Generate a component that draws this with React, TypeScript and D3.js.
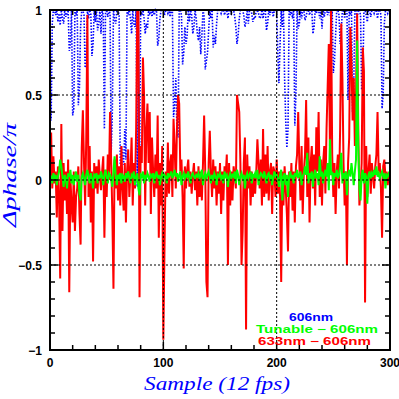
import React, { useRef, useEffect } from "react";
import * as d3 from "d3";

// phase differences / pi, one value per sample (12 fps)
const blue606 = [
  0.90, 0.35, 0.92, 1.00, 1.00, 0.97, 1.00, 0.93, 0.98, 0.91,
  1.00, 0.95, 0.92, 1.00, 0.96, 0.98, 1.00, 0.76, 0.80, 1.00,
  0.38, 0.42, 1.00, 0.98, 1.00, 0.44, 0.55, 0.90, 1.00, 1.00,
  0.97, 0.66, 0.70, 1.00, 0.95, 1.00, 0.98, 0.73, 0.80, 1.00,
  0.93, 1.00, 0.88, 0.92, 1.00, 0.86, 1.00, 0.97, 0.30, 1.00,
  1.00, 0.96, 1.00, 0.98, 0.16, 0.40, 1.00, 0.94, 0.92, 1.00,
  1.00, 0.97, 0.09, 0.20, 0.15, 0.09, 0.30, 0.12, 1.00, 0.98,
  1.00, 0.95, 0.86, 1.00, 0.92, 0.90, 1.00, -0.04, 1.00, 0.08,
  1.00, 0.97, 1.00, 0.95, 0.86, 0.92, 0.89, 1.00, 0.98, 1.00,
  0.96, 1.00, 0.97, 1.00, 0.99, 0.79, 0.83, 0.95, 1.00, 1.00,
  1.00, 0.97, 1.00, 1.00, 0.98, 1.00, 0.96, 1.00, 1.00, 0.37,
  0.45, 0.60, 0.30, 0.25, 1.00, 1.00, 0.97, 0.68, 0.75, 0.90,
  0.80, 0.85, 1.00, 0.93, 1.00, 0.97, 0.86, 0.90, 1.00, 0.95,
  0.86, 0.82, 0.90, 0.74, 0.85, 1.00, 0.96, 0.65, 0.70, 0.75,
  0.88, 1.00, 0.95, 1.00, 0.78, 0.85, 0.80, 0.92, 1.00, 1.00,
  1.00, 0.98, 1.00, 1.00, 0.97, 1.00, 1.00, 0.95, 1.00, 1.00,
  0.98, 1.00, 1.00, 0.96, 0.90, 0.80, 0.85, 0.95, 1.00, 1.00,
  1.00, 0.97, 0.90, 0.93, 1.00, 0.92, 1.00, 1.00, 0.98, 0.93,
  0.96, 0.95, 1.00, 1.00, 0.98, 0.95, 0.96, 1.00, 0.95, 1.00,
  1.00, 0.88, 0.92, 1.00, 0.97, 1.00, 1.00, 0.96, 1.00, 1.00,
  1.00, 0.75, 0.57, 0.80, 1.00, 0.90, 1.00, 0.60, 0.35, 0.19,
  0.30, 1.00, 0.97, 1.00, 0.95, 1.00, 0.32, 0.50, 1.00, 0.89,
  0.92, 1.00, 0.95, 1.00, 1.00, 0.94, 0.96, 1.00, 1.00, 0.97,
  1.00, 1.00, 0.86, 0.90, 1.00, 0.98, 1.00, 1.00, 0.95, 1.00,
  0.89, 1.00, 0.96, 1.00, 1.00, 0.97, 1.00, 1.00, 0.93, 1.00,
  0.63, 0.70, 0.85, 1.00, 1.00, 0.97, 0.80, 0.88, 1.00, 1.00,
  0.95, 1.00, 1.00, 0.47, 1.00, 0.97, 1.00, 0.40, 0.55, 1.00,
  1.00, 0.95, 1.00, 1.00, 0.97, 0.53, 0.60, 1.00, 1.00, 0.97,
  0.93, 1.00, 1.00, 0.96, 1.00, 1.00, 0.98, 1.00, 1.00, 0.95,
  1.00, 1.00, 0.97, 0.42, 0.50, 0.92, 1.00, 1.00, 0.98, 1.00, 1.00,
];

const red633 = [
  0.00, 0.28, -0.05, 0.14, -0.02, 0.05, -0.22, 0.08, -0.10, -0.58,
  0.33, -0.30, 0.10, -0.12, 0.05, -0.20, 0.12, -0.66, 0.02, -0.15,
  -0.25, 0.05, -0.30, -0.10, -0.05, 0.08, -0.20, -0.38, 0.19, 0.41,
  0.10, -0.15, 0.25, 0.97, -0.10, 0.20, -0.25, 0.05, -0.48, 0.10,
  -0.05, 0.08, -0.08, 0.12, 0.02, -0.06, 0.05, 0.14, -0.34, 0.06,
  -0.10, 0.15, 0.00, 0.40, 0.10, -0.20, -0.64, 0.12, -0.05, 0.15,
  -0.12, 0.08, -0.15, 0.20, -0.05, -0.18, 0.10, -0.25, 0.05, 0.18,
  -0.10, 0.05, 0.25, -0.15, 0.10, -0.05, 0.30, 1.00, 1.00, -0.69,
  0.20, 0.10, 0.72, 0.50, -0.15, 0.30, 0.45, 0.10, 0.40, -0.20,
  0.25, 0.05, -0.10, 0.15, -0.05, 0.38, -0.34, 0.10, -0.15, 0.20,
  -0.94, -0.41, 0.05, -0.10, 0.22, -0.08, 0.10, 0.15, -0.10, 0.36,
  0.20, -0.05, 0.30, 0.50, 0.45, 0.05, 0.12, -0.10, -0.52, 0.08,
  -0.05, 0.06, 0.12, -0.04, 0.05, -0.08, 0.03, 0.10, -0.06, 0.05,
  -0.15, 0.08, -0.10, 0.05, -0.12, 0.10, 0.38, 0.05, -0.60, -0.69,
  0.10, 0.29, 0.05, -0.10, 0.12, -0.05, 0.08, -0.15, 0.05, -0.08,
  0.10, -0.20, 0.05, -0.12, 0.08, 0.02, 0.15, -0.50, 0.10, -0.15,
  0.05, -0.12, 0.08, 0.02, -0.05, 0.50, 0.45, 0.40, 0.10, -0.50,
  -0.30, 0.10, 0.25, -0.88, 0.15, -0.05, 0.08, -0.15, 0.05, -0.10,
  0.02, -0.08, 0.05, 0.24, 0.10, -0.05, 0.12, -0.15, 0.30, -0.10,
  0.15, -0.08, 0.20, -0.12, 0.05, 0.10, -0.20, 0.08, 0.05, -0.10,
  0.12, -0.08, 0.05, -0.10, -0.60, 0.05, -0.15, 0.08, -0.05, -0.20,
  -0.42, 0.05, -0.10, 0.10, -0.18, 0.05, -0.25, 0.08, 0.15, 0.40,
  0.10, -0.12, 0.20, -0.20, 0.05, 0.15, 0.47, -0.10, 0.25, -0.25,
  0.10, 0.20, -0.05, 0.15, -0.15, 0.31, 0.05, 0.40, -0.10, 0.12,
  -0.15, 0.10, 0.20, -0.08, 0.30, 0.55, 0.80, 0.20, 1.00, 0.15,
  -0.10, 0.10, -0.20, 0.05, 0.15, -0.05, 0.30, 0.92, 0.60, 0.10,
  -0.15, 0.05, -0.50, 0.10, 0.25, 0.90, 0.70, 0.35, 0.60, 0.20,
  0.50, 0.98, 0.30, -0.15, -0.05, 0.10, 0.78, 0.64, -0.72, 0.20,
  -0.10, 0.05, 0.15, -0.08, 0.10, 0.02, -0.05, 0.08, 0.15, 0.40,
  0.05, 0.10, -0.05, -0.34, 0.08, 0.12, 0.02, 0.05, -0.03, 0.04, 0.02,
];

const greenTunable = [
  0.03, 0.02, -0.02, 0.04, 0.01, 0.03, -0.03, 0.02, 0.05, 0.12,
  0.08, 0.02, -0.04, 0.03, 0.01, -0.05, 0.04, 0.02, 0.06, -0.02,
  0.03, -0.03, 0.02, 0.05, -0.01, 0.03, -0.08, -0.12, 0.02, 0.04,
  0.01, -0.03, 0.03, 0.06, 0.02, -0.02, 0.04, 0.01, -0.05, 0.03,
  0.02, 0.04, -0.02, 0.03, 0.01, 0.05, 0.02, -0.03, 0.03, 0.06,
  0.02, -0.02, 0.04, 0.03, 0.01, -0.04, 0.05, 0.14, 0.02, -0.03,
  0.03, 0.01, 0.04, -0.02, 0.03, 0.02, -0.01, 0.04, 0.02, 0.05,
  0.01, -0.02, 0.03, 0.02, 0.05, -0.03, 0.02, 0.04, -0.05, -0.09,
  0.03, 0.02, 0.05, -0.02, 0.03, 0.01, 0.04, 0.02, -0.01, 0.03,
  0.02, 0.04, -0.02, 0.03, 0.05, 0.01, 0.03, -0.03, 0.02, 0.04,
  0.01, 0.03, 0.02, -0.02, 0.04, 0.02, 0.03, 0.05, 0.01, 0.03,
  0.06, 0.02, 0.04, -0.01, 0.03, 0.05, -0.03, 0.02, 0.04, 0.01,
  0.03, 0.02, 0.05, 0.01, -0.02, 0.03, 0.04, 0.02, 0.01, 0.03,
  0.02, 0.04, 0.01, 0.03, 0.06, -0.03, 0.02, 0.04, 0.01, 0.03,
  0.05, 0.02, -0.02, 0.03, 0.01, 0.04, 0.02, -0.03, 0.03, 0.02,
  0.04, 0.01, 0.03, -0.02, 0.05, 0.02, 0.03, -0.04, 0.02, 0.04,
  0.01, 0.03, 0.02, 0.05, -0.02, 0.06, 0.03, -0.03, 0.02, 0.04,
  0.01, 0.03, -0.05, 0.02, 0.04, 0.01, 0.03, 0.05, -0.02, 0.03,
  0.02, 0.04, 0.01, 0.06, -0.03, 0.02, 0.04, 0.03, 0.01, 0.05,
  0.02, -0.02, 0.03, 0.04, 0.01, 0.03, -0.03, 0.02, 0.05, 0.02,
  0.03, 0.01, -0.04, 0.03, 0.06, -0.12, 0.02, 0.04, -0.03, 0.03,
  -0.10, 0.02, 0.05, 0.01, 0.03, -0.02, 0.04, 0.02, 0.06, 0.01,
  0.03, 0.05, -0.03, 0.02, 0.04, 0.08, 0.03, 0.16, -0.02, 0.04,
  0.02, 0.05, -0.04, 0.03, 0.06, 0.01, 0.04, -0.03, 0.14, 0.02,
  0.05, -0.02, 0.03, 0.06, 0.02, 0.10, -0.06, 0.24, 0.03, 0.05,
  -0.03, 0.04, 0.02, 0.06, 0.01, 0.03, 0.08, 0.16, -0.02, 0.04,
  0.02, 0.05, -0.09, 0.03, 0.06, 0.02, 0.10, 0.04, -0.03, 0.05,
  0.12, 0.82, 0.20, -0.05, -0.12, 0.03, 0.06, -0.02, 0.04, 0.02,
  -0.14, 0.03, 0.05, 0.01, 0.04, 0.02, 0.06, 0.03, 0.08, 0.02,
  0.04, 0.01, 0.03, 0.05, 0.02, 0.04, -0.05, 0.03, 0.02, 0.04, 0.03,
];

const xTickLabels = [0, 100, 200, 300];
const yTickLabels = [-1, -0.5, 0, 0.5, 1];
const legendLabels = ["606nm", "Tunable \u2212 606nm", "633nm \u2212 606nm"];

const App = () => {
  const svgRef = useRef(null);
  const width = 399;
  const height = 399;
  const margin = { top: 10, right: 9, bottom: 49, left: 50 };

  useEffect(() => {
    const svg = d3.select(svgRef.current);
    svg.selectAll("*").remove();

    const x = d3
      .scaleLinear()
      .domain([0, 300])
      .range([margin.left, width - margin.right]);
    const y = d3
      .scaleLinear()
      .domain([-1, 1])
      .range([height - margin.bottom, margin.top]);

    const line = d3
      .line<number>()
      .x((d, i) => x(i))
      .y((d) => y(d));

    // series: blue (dotted) first, red, then green on top
    svg
      .append("path")
      .attr("d", line(blue606))
      .attr("fill", "none")
      .attr("stroke", "#0000ff")
      .attr("stroke-width", 1.6)
      .attr("stroke-dasharray", "1.5 1.5");

    svg
      .append("path")
      .attr("d", line(red633))
      .attr("fill", "none")
      .attr("stroke", "#ff0000")
      .attr("stroke-width", 2);

    svg
      .append("path")
      .attr("d", line(greenTunable))
      .attr("fill", "none")
      .attr("stroke", "#00ff00")
      .attr("stroke-width", 2);

    // dotted grid
    [100, 200].forEach((v) => {
      svg
        .append("line")
        .attr("x1", x(v))
        .attr("x2", x(v))
        .attr("y1", y(-1))
        .attr("y2", y(1))
        .attr("stroke", "black")
        .attr("stroke-dasharray", "2 2");
    });
    [-0.5, 0, 0.5].forEach((v) => {
      svg
        .append("line")
        .attr("x1", x(0))
        .attr("x2", x(300))
        .attr("y1", y(v))
        .attr("y2", y(v))
        .attr("stroke", "black")
        .attr("stroke-dasharray", "2 2");
    });

    // frame
    svg
      .append("rect")
      .attr("x", x(0))
      .attr("y", y(1))
      .attr("width", x(300) - x(0))
      .attr("height", y(-1) - y(1))
      .attr("fill", "none")
      .attr("stroke", "black")
      .attr("stroke-width", 2);

    // ticks pointing inward on all four sides
    const ticks = svg.append("g").attr("stroke", "black").attr("stroke-width", 1.5);
    d3.range(0, 301, 20).forEach((v) => {
      const len = v % 100 === 0 ? 8 : 5;
      ticks.append("line").attr("x1", x(v)).attr("x2", x(v)).attr("y1", y(-1)).attr("y2", y(-1) - len);
      ticks.append("line").attr("x1", x(v)).attr("x2", x(v)).attr("y1", y(1)).attr("y2", y(1) + len);
    });
    d3.range(-10, 11).forEach((k) => {
      const v = k / 10;
      const len = k % 5 === 0 ? 8 : 5;
      ticks.append("line").attr("x1", x(0)).attr("x2", x(0) + len).attr("y1", y(v)).attr("y2", y(v));
      ticks.append("line").attr("x1", x(300)).attr("x2", x(300) - len).attr("y1", y(v)).attr("y2", y(v));
    });

    // tick labels
    const fmt = (v) => (v < 0 ? "\u2212" + Math.abs(v) : String(v));
    svg
      .selectAll(".xl")
      .data(xTickLabels)
      .enter()
      .append("text")
      .attr("class", "xl")
      .attr("x", (d) => x(d))
      .attr("y", height - margin.bottom + 17)
      .attr("text-anchor", "middle")
      .style("font-family", "Liberation Sans, Arial, sans-serif")
      .style("font-weight", "bold")
      .style("font-size", "12px")
      .text((d) => fmt(d));

    svg
      .selectAll(".yl")
      .data(yTickLabels)
      .enter()
      .append("text")
      .attr("class", "yl")
      .attr("x", margin.left - 8)
      .attr("y", (d) => y(d) + 4.5)
      .attr("text-anchor", "end")
      .style("font-family", "Liberation Sans, Arial, sans-serif")
      .style("font-weight", "bold")
      .style("font-size", "12px")
      .text((d) => fmt(d));

    // axis titles
    svg
      .append("text")
      .attr("x", 144)
      .attr("y", 390)
      .attr("textLength", 146)
      .attr("lengthAdjust", "spacingAndGlyphs")
      .style("font-family", "Liberation Serif, serif")
      .style("font-style", "italic")
      .style("font-size", "19px")
      .style("fill", "#0000ff")
      .text("Sample (12 fps)");

    svg
      .append("text")
      .attr("transform", "translate(16,227) rotate(-90)")
      .attr("textLength", 104)
      .attr("lengthAdjust", "spacingAndGlyphs")
      .style("font-family", "Liberation Serif, serif")
      .style("font-style", "italic")
      .style("font-size", "19px")
      .style("fill", "#0000ff")
      .text("\u0394phase/\u03c0");

    // legend
    const legendX = [289, 256, 258];
    const legendW = [44, 122, 113];
    const legendColors = ["#0000ff", "#00ff00", "#ff0000"];
    legendLabels.forEach((t, i) => {
      svg
        .append("text")
        .attr("x", legendX[i])
        .attr("y", 321 + i * 12)
        .attr("textLength", legendW[i])
        .attr("lengthAdjust", "spacingAndGlyphs")
        .style("font-family", "Liberation Sans, Arial, sans-serif")
        .style("font-weight", "bold")
        .style("font-size", "10.5px")
        .style("fill", legendColors[i])
        .text(t);
    });
  }, []);

  return (
    <svg
      ref={svgRef}
      width={width}
      height={height}
      style={{ position: "absolute", left: 0, top: 0, background: "white" }}
    ></svg>
  );
};

export default App;
